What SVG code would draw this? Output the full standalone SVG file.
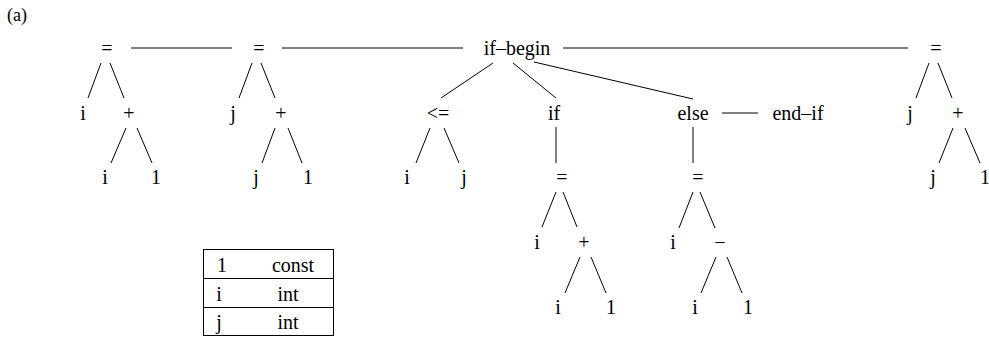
<svg xmlns="http://www.w3.org/2000/svg" width="989" height="338" viewBox="0 0 989 338">
  <style>
    .lbl { font-size: 20px; fill: #000; text-anchor: middle; }
    .cap { font-size: 18px; fill: #000; }
    .edge { stroke: #000; stroke-width: 1; fill: none; }
    .tbl { stroke: #000; stroke-width: 1; fill: none; }
  </style>
  <rect width="989" height="338" fill="#fff"/>
  <g font-family="'Liberation Serif', 'Times New Roman', serif">
  <text class="cap" x="7" y="21">(a)</text>

  <!-- connectors -->
  <g id="edges" class="edge">
    <!-- statement chain -->
    <line x1="131" y1="48" x2="232" y2="48"/>
    <line x1="282" y1="48" x2="463" y2="48"/>
    <line x1="563" y1="48" x2="908" y2="48"/>
    <!-- i = i + 1 -->
    <line x1="101" y1="63" x2="88" y2="98"/>
    <line x1="110" y1="63" x2="124" y2="98"/>
    <line x1="126" y1="128" x2="111" y2="163"/>
    <line x1="137" y1="128" x2="152" y2="163"/>
    <!-- j = j + 1 -->
    <line x1="252" y1="63" x2="239" y2="98"/>
    <line x1="261" y1="63" x2="275" y2="98"/>
    <line x1="275" y1="128" x2="262" y2="163"/>
    <line x1="288" y1="128" x2="302" y2="163"/>
    <!-- if-begin children -->
    <line x1="493" y1="63" x2="441" y2="98"/>
    <line x1="513" y1="63" x2="556" y2="98"/>
    <line x1="534" y1="62" x2="693" y2="99"/>
    <!-- i <= j -->
    <line x1="430" y1="128" x2="416" y2="163"/>
    <line x1="444" y1="128" x2="459" y2="163"/>
    <!-- if branch: i = i + 1 -->
    <line x1="556" y1="127" x2="556" y2="163"/>
    <line x1="556" y1="192" x2="542" y2="227"/>
    <line x1="563" y1="192" x2="577" y2="227"/>
    <line x1="580" y1="257" x2="565" y2="293"/>
    <line x1="591" y1="257" x2="606" y2="293"/>
    <!-- else branch: i = i - 1 -->
    <line x1="722" y1="113" x2="758" y2="113"/>
    <line x1="693" y1="127" x2="693" y2="163"/>
    <line x1="693" y1="192" x2="679" y2="228"/>
    <line x1="700" y1="192" x2="715" y2="228"/>
    <line x1="716" y1="257" x2="701" y2="293"/>
    <line x1="727" y1="257" x2="742" y2="293"/>
    <!-- j = j + 1 -->
    <line x1="929" y1="63" x2="916" y2="98"/>
    <line x1="938" y1="63" x2="952" y2="98"/>
    <line x1="953" y1="128" x2="939" y2="163"/>
    <line x1="965" y1="128" x2="980" y2="163"/>
  </g>

  <!-- first assignment -->
  <g id="assign1" class="lbl">
    <text x="107" y="55">=</text>
    <text x="83" y="120">i</text>
    <text x="129" y="120">+</text>
    <text x="105" y="184">i</text>
    <text x="156" y="184">1</text>
  </g>

  <!-- second assignment -->
  <g id="assign2" class="lbl">
    <text x="259" y="55">=</text>
    <text x="233" y="120">j</text>
    <text x="281" y="120">+</text>
    <text x="256" y="184">j</text>
    <text x="308" y="184">1</text>
  </g>

  <g id="if-begin" class="lbl">
    <text x="517" y="55">if–begin</text>
  </g>

  <g id="cond" class="lbl">
    <text x="438" y="120">&lt;=</text>
    <text x="407" y="184">i</text>
    <text x="464" y="184">j</text>
  </g>

  <g id="if-branch" class="lbl">
    <text x="554" y="120">if</text>
    <text x="562" y="184">=</text>
    <text x="537" y="249">i</text>
    <text x="584" y="249">+</text>
    <text x="558" y="314">i</text>
    <text x="611" y="314">1</text>
  </g>

  <g id="else-branch" class="lbl">
    <text x="693" y="120">else</text>
    <text x="698" y="184">=</text>
    <text x="673" y="249">i</text>
    <text x="720" y="249">−</text>
    <text x="695" y="314">i</text>
    <text x="748" y="314">1</text>
  </g>

  <g id="end-if" class="lbl">
    <text x="798" y="120">end–if</text>
  </g>

  <!-- last assignment -->
  <g id="assign3" class="lbl">
    <text x="936" y="55">=</text>
    <text x="910" y="120">j</text>
    <text x="958" y="120">+</text>
    <text x="933" y="184">j</text>
    <text x="985" y="184">1</text>
  </g>

  <!-- symbol table -->
  <g id="symtab" class="lbl">
    <rect class="tbl" x="203.5" y="249.5" width="130" height="86"/>
    <line class="tbl" x1="203.5" y1="278.5" x2="333.5" y2="278.5"/>
    <line class="tbl" x1="203.5" y1="307.5" x2="333.5" y2="307.5"/>
    <text x="222" y="272">1</text>
    <text x="293" y="272">const</text>
    <text x="219" y="301">i</text>
    <text x="288" y="301">int</text>
    <text x="219" y="329">j</text>
    <text x="288" y="329">int</text>
  </g>
  </g>
</svg>
